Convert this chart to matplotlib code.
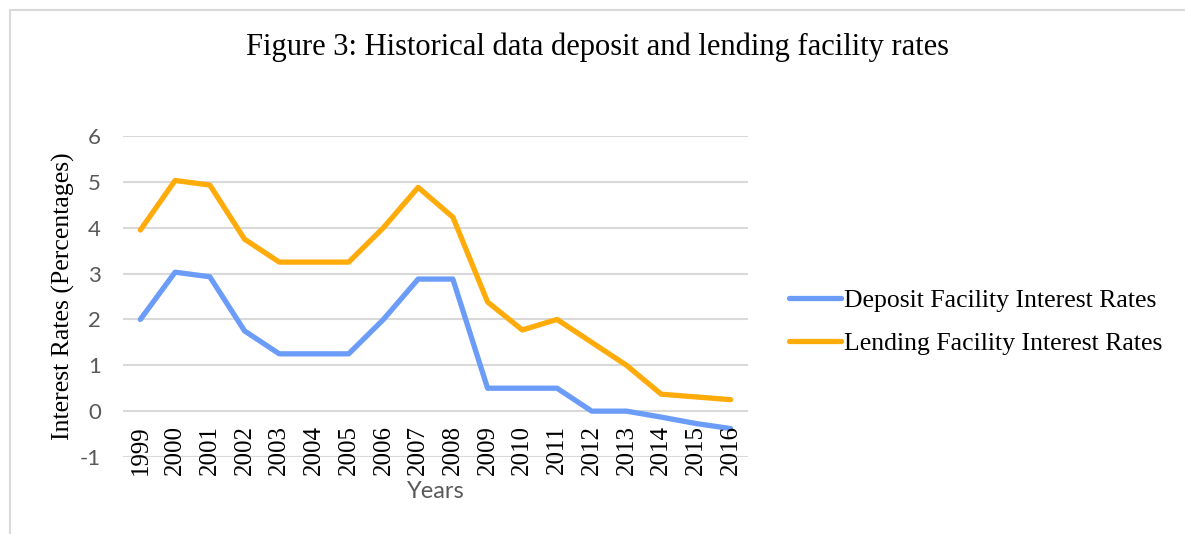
import numpy as np
from matplotlib import pyplot as plt
from matplotlib.patches import Rectangle

# datos
years = [str(y) for y in range(1999, 2017)]
deposit = [2.0, 3.03, 2.93, 1.75, 1.25, 1.25, 1.25, 2.0, 2.88, 2.88,
           0.5, 0.5, 0.5, 0.0, 0.0, -0.13, -0.27, -0.38]
lending = [3.95, 5.03, 4.93, 3.75, 3.25, 3.25, 3.25, 4.0, 4.88, 4.23,
           2.38, 1.77, 2.0, 1.5, 1.0, 0.37, 0.31, 0.25]
yticks = [-1, 0, 1, 2, 3, 4, 5, 6]

serif = 'Liberation Serif'
sans = 'Lato'

fig = plt.figure(figsize=(11.85, 5.34), dpi=100)
ax = fig.add_axes([123/1185, 1-457/534, (748-123)/1185, (457-136)/534])

# borde del grafico
fig.patches.append(Rectangle((10/1185, -0.1), 1.2, 1-10/534+0.1, transform=fig.transFigure,
                             fill=False, edgecolor='#D9D9D9', linewidth=1.5))

x = np.arange(len(years))
ax.plot(x, deposit, color='#6A9CF8', linewidth=3.8, solid_capstyle='round',
        label='Deposit Facility Interest Rates', zorder=3)
ax.plot(x, lending, color='#FFAB0A', linewidth=3.8, solid_capstyle='round',
        label='Lending Facility Interest Rates', zorder=3)

ax.set_xlim(-0.5, len(years) - 0.5)
ax.set_ylim(-1, 6)
ax.set_yticks(yticks)
ax.set_yticklabels([str(t) for t in yticks], fontfamily=sans, fontsize=16, color='#595959')
ax.grid(axis='y', color='#D9D9D9', linewidth=1.5, zorder=0)
for s in ax.spines.values():
    s.set_visible(False)
ax.tick_params(axis='both', length=0)
ax.tick_params(axis='y', pad=16)

# etiquetas del eje x debajo del cero
ax.set_xticks([])
for i, yr in enumerate(years):
    ax.text(i, -0.3, yr, rotation=90, ha='center', va='top', fontfamily=serif,
            fontsize=18, color='black')

ax.text((len(years) - 1) / 2, -1.52, 'Years', ha='center', va='top',
        fontfamily=sans, fontsize=17, color='#595959')
ax.set_ylabel('Interest Rates (Percentages)', fontfamily=serif, fontsize=18.5, labelpad=3)

fig.text(597/1185, 1-47/534, 'Figure 3: Historical data deposit and lending facility rates',
         ha='center', va='center', fontfamily=serif, fontsize=22)

fig.legend(loc='center left', bbox_to_anchor=(766/1185, 1-322/534), frameon=False,
           prop={'family': serif, 'size': 18.5}, handlelength=2.0, handletextpad=0.15,
           labelspacing=0.75)

fig.savefig('out.png', dpi=100)
